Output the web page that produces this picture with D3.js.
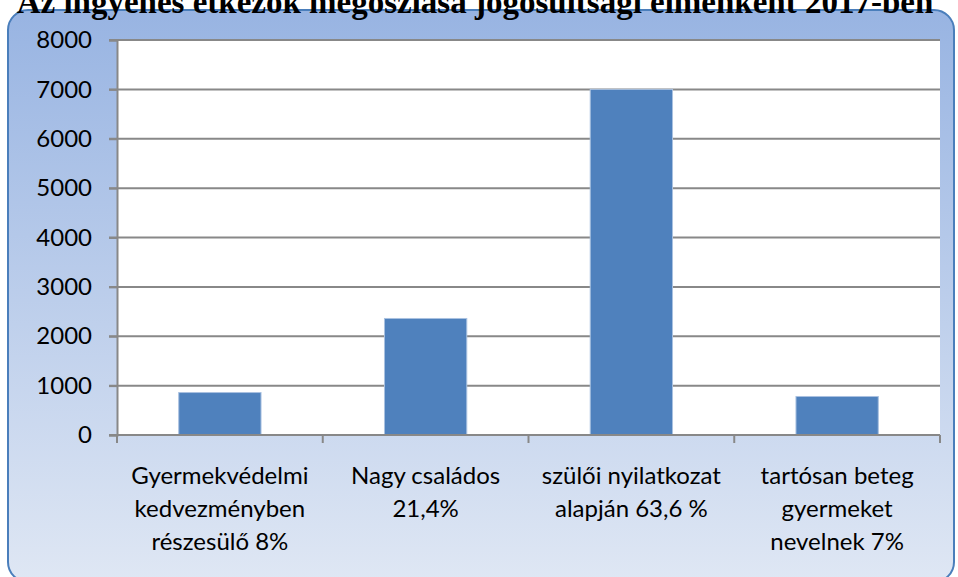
<!DOCTYPE html>
<html>
<head>
<meta charset="utf-8">
<script src="https://cdn.jsdelivr.net/npm/d3@7"></script>
<style>
  html, body { margin: 0; padding: 0; background: #fff; overflow: hidden; }
  #chart { width: 958px; height: 577px; }
</style>
</head>
<body>
<div id="chart"></div>
<script>
const title = "Az ingyenes étkezők megoszlása jogosultsági elmenként 2017-ben";
const categories = [
  ["Gyermekvédelmi", "kedvezményben", "részesülő 8%"],
  ["Nagy családos", "21,4%"],
  ["szülői nyilatkozat", "alapján 63,6 %"],
  ["tartósan beteg", "gyermeket", "nevelnek 7%"]
];
const values = [860, 2360, 7000, 780];
const yTicks = [0, 1000, 2000, 3000, 4000, 5000, 6000, 7000, 8000];

const W = 958, H = 577;
const plot = {left: 117, right: 940, top: 40, bottom: 435};

const svg = d3.select("#chart").append("svg")
    .attr("width", W)
    .attr("height", H);

const defs = svg.append("defs");
const grad = defs.append("linearGradient")
    .attr("id", "bg")
    .attr("x1", 0).attr("y1", 0).attr("x2", 0).attr("y2", 1);
grad.append("stop").attr("offset", "0%").attr("stop-color", "#98b4e2");
grad.append("stop").attr("offset", "100%").attr("stop-color", "#dfe7f4");

// chart area box
svg.append("rect")
    .attr("x", 8).attr("y", 10)
    .attr("width", 946).attr("height", 572)
    .attr("rx", 20).attr("ry", 20)
    .attr("fill", "url(#bg)")
    .attr("stroke", "#4a7ebb")
    .attr("stroke-width", 2);

// title, its top sits above the page edge like in the original
svg.append("text")
    .attr("x", 475).attr("y", 13)
    .attr("text-anchor", "middle")
    .attr("font-family", "Liberation Serif, serif")
    .attr("font-weight", "bold")
    .attr("font-size", 33)
    .text(title);

// plot area
svg.append("rect")
    .attr("x", plot.left).attr("y", plot.top)
    .attr("width", plot.right - plot.left)
    .attr("height", plot.bottom - plot.top)
    .attr("fill", "#fff");

const x = d3.scaleBand()
    .domain(d3.range(categories.length))
    .range([plot.left, plot.right])
    .paddingInner(0.6)
    .paddingOuter(0.3);

const xBand = d3.scaleBand()
    .domain(d3.range(categories.length))
    .range([plot.left, plot.right]);

const y = d3.scaleLinear()
    .domain([0, 8000])
    .range([plot.bottom, plot.top]);

// gridlines
svg.append("g")
  .selectAll("line")
  .data(yTicks)
  .join("line")
    .attr("x1", plot.left - 8)
    .attr("x2", plot.right)
    .attr("y1", d => y(d))
    .attr("y2", d => y(d))
    .attr("stroke", "#888")
    .attr("stroke-width", 2);

// bars
svg.append("g")
  .selectAll("rect")
  .data(values)
  .join("rect")
    .attr("x", (d, i) => x(i))
    .attr("y", d => y(d))
    .attr("width", x.bandwidth())
    .attr("height", d => plot.bottom - y(d))
    .attr("fill", "#4f81bd")
    .attr("stroke", "#a9c1e0")
    .attr("stroke-width", 1);

// y axis
const yAxis = svg.append("g")
    .attr("transform", `translate(${plot.left},0)`)
    .call(d3.axisLeft(y).tickValues(yTicks).tickFormat(d3.format("d")).tickSize(8).tickPadding(17));
yAxis.select(".domain").attr("stroke", "#888").attr("stroke-width", 2);
yAxis.selectAll(".tick line").attr("stroke", "#888").attr("stroke-width", 2);
yAxis.selectAll("text")
    .attr("font-family", "Lato, Carlito, sans-serif")
    .attr("font-size", 24)
    .attr("fill", "#000");

// x axis baseline and ticks
const xTickPos = d3.range(categories.length + 1)
    .map(i => i < categories.length ? xBand(i) : plot.right);
svg.append("line")
    .attr("x1", plot.left).attr("x2", plot.right)
    .attr("y1", plot.bottom).attr("y2", plot.bottom)
    .attr("stroke", "#888").attr("stroke-width", 2);
svg.append("g")
  .selectAll("line")
  .data(xTickPos)
  .join("line")
    .attr("x1", d => d).attr("x2", d => d)
    .attr("y1", plot.bottom).attr("y2", plot.bottom + 8)
    .attr("stroke", "#888").attr("stroke-width", 2);

// category labels
svg.append("g")
  .selectAll("text")
  .data(categories)
  .join("text")
    .attr("x", (d, i) => xBand(i) + xBand.bandwidth() / 2)
    .attr("y", 484)
    .attr("text-anchor", "middle")
    .attr("font-family", "Lato, Carlito, sans-serif")
    .attr("font-size", 24)
    .attr("fill", "#000")
  .selectAll("tspan")
  .data((d, i) => d.map(t => ({t, i})))
  .join("tspan")
    .attr("x", d => xBand(d.i) + xBand.bandwidth() / 2)
    .attr("dy", (d, j) => j === 0 ? 0 : 33)
    .text(d => d.t);
</script>
</body>
</html>
